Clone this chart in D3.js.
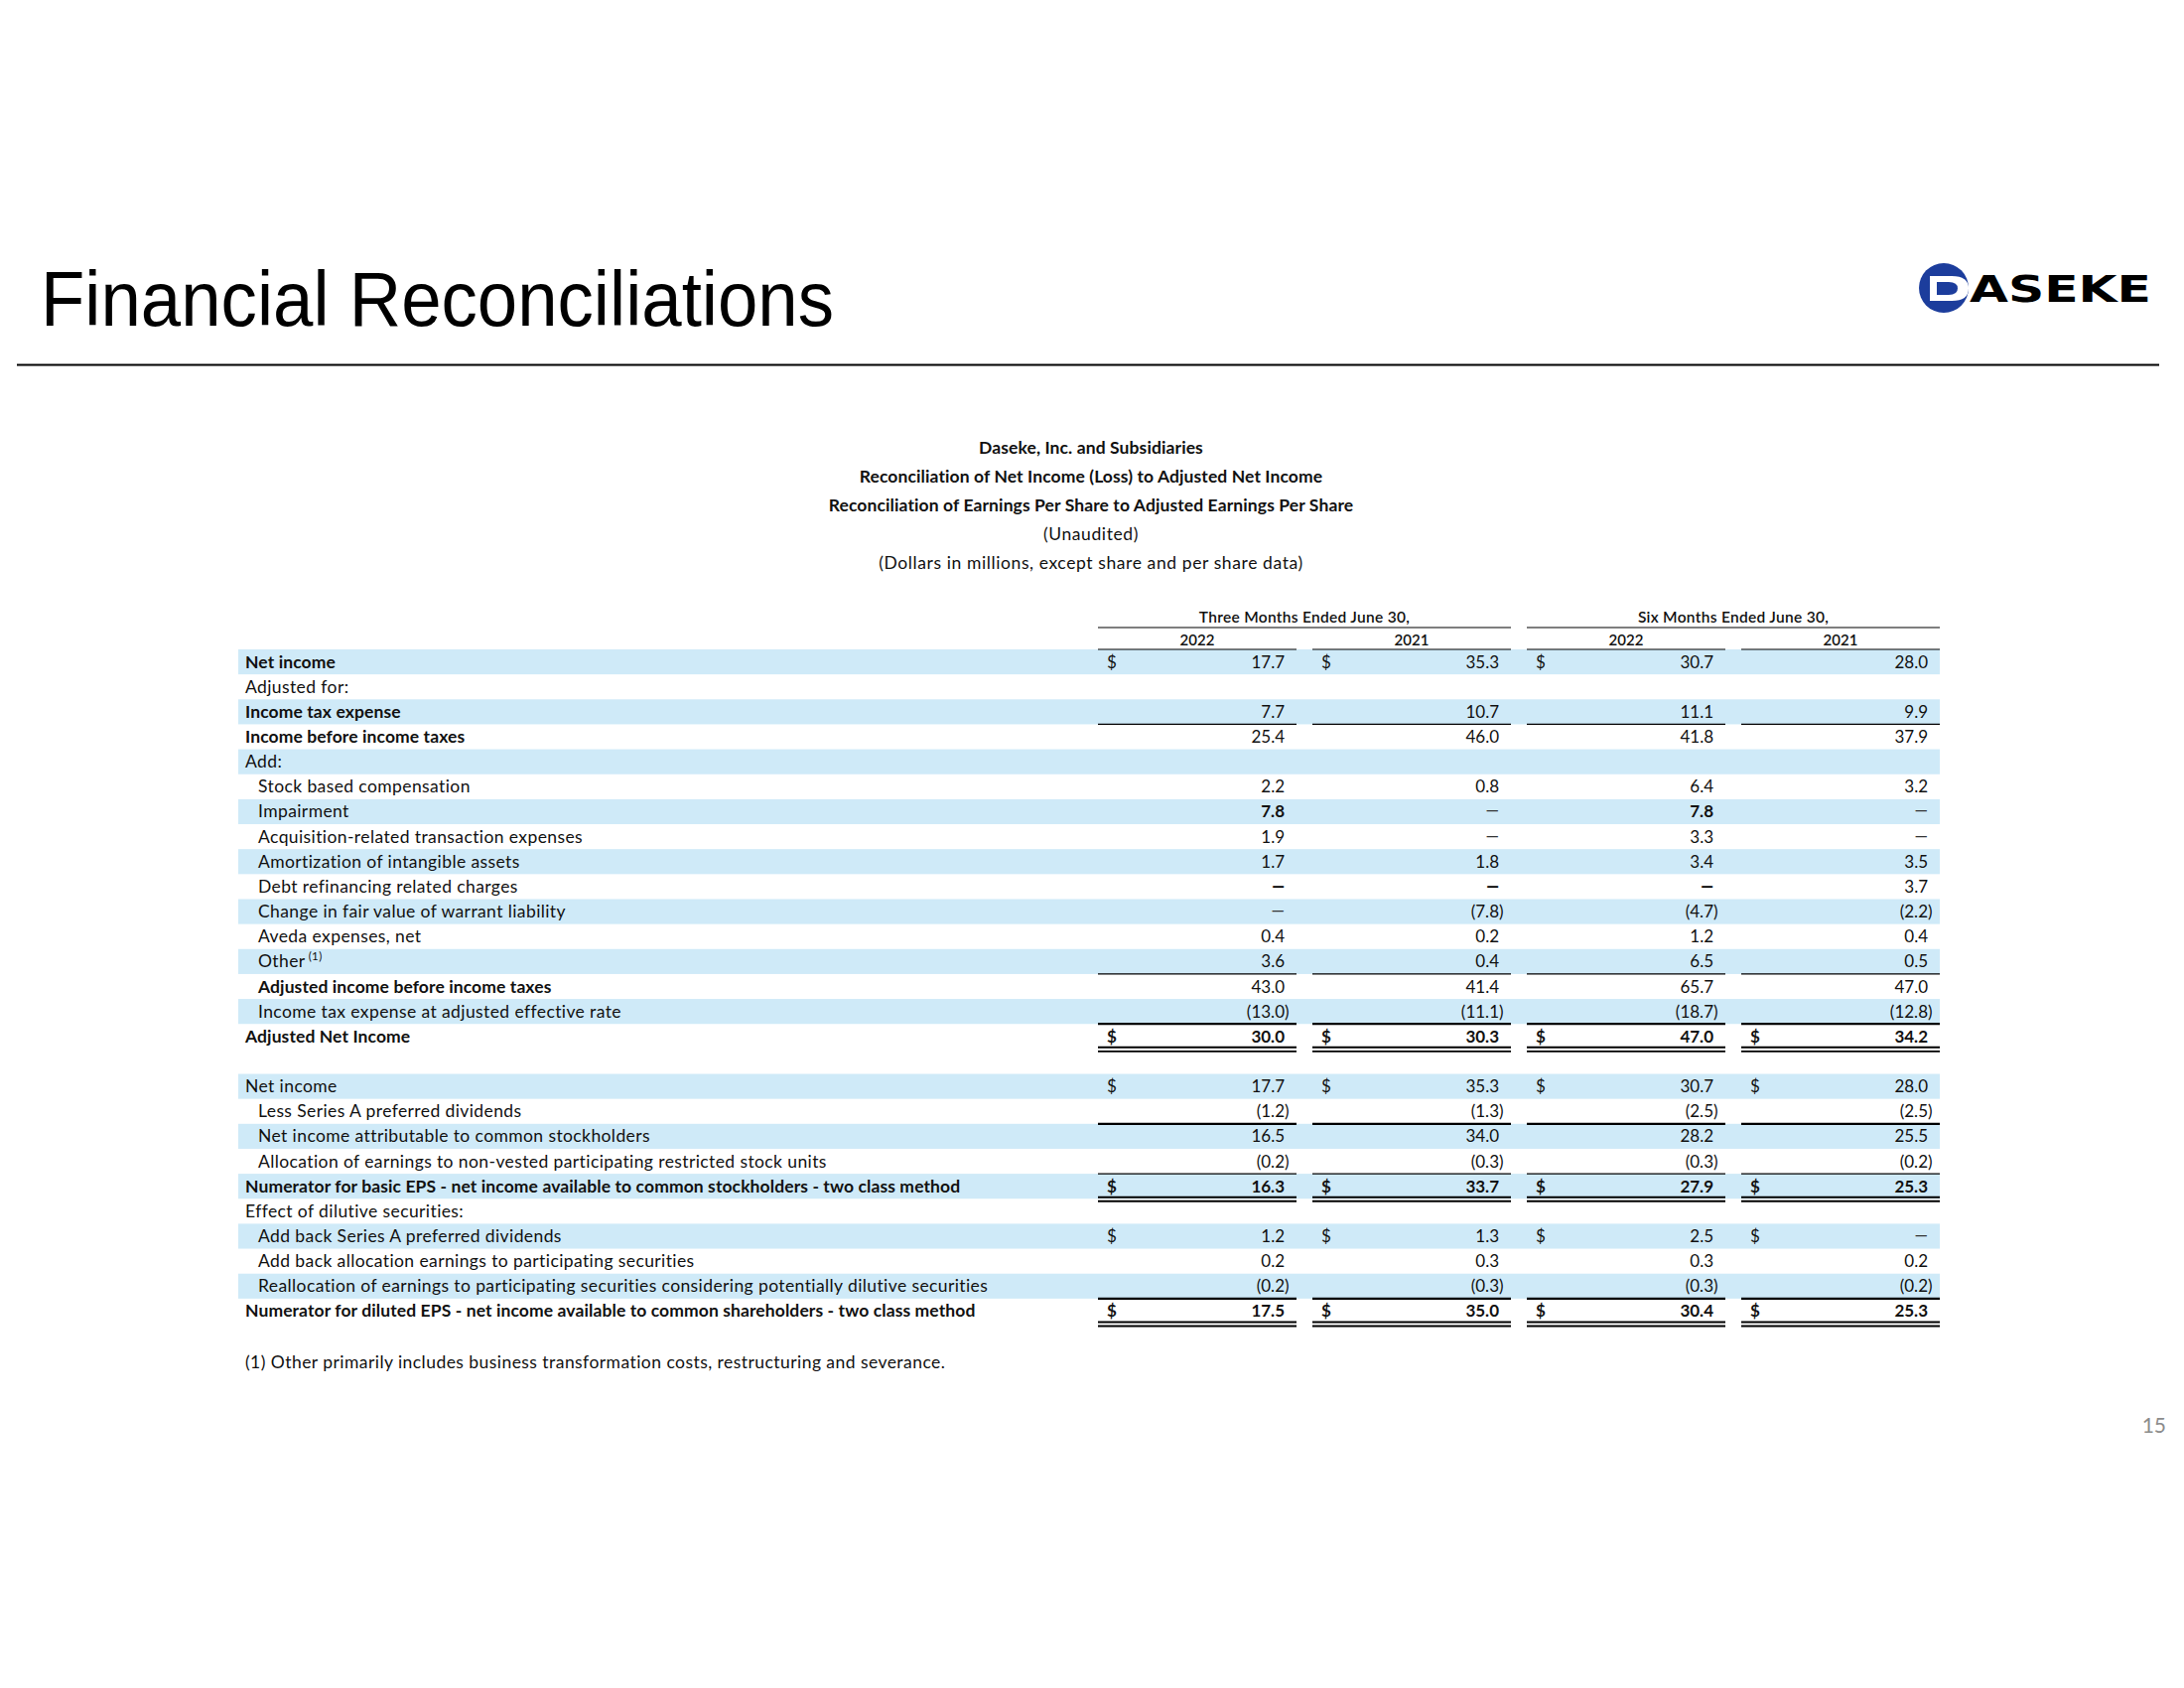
<!DOCTYPE html>
<html><head><meta charset="utf-8">
<script src="https://cdn.jsdelivr.net/npm/d3@7"></script>
<style>body{margin:0;background:#fff}svg{display:block}</style>
</head><body>
<svg id="c" width="2200" height="1700"></svg>
<script>
// ---------------- DATA ----------------
const pageTitle = "Financial Reconciliations";
const logoText = "ASEKE";
const headerLines = [
  "Daseke, Inc. and Subsidiaries",
  "Reconciliation of Net Income (Loss) to Adjusted Net Income",
  "Reconciliation of Earnings Per Share to Adjusted Earnings Per Share",
  "(Unaudited)",
  "(Dollars in millions, except share and per share data)"
];
const headerBold = [true, true, true, false, false];
const periodLabels = ["Three Months Ended June 30,", "Six Months Ended June 30,"];
const yearLabels = ["2022", "2021", "2022", "2021"];
const rowLabels = [
  "Net income", "Adjusted for:", "Income tax expense", "Income before income taxes", "Add:",
  "Stock based compensation", "Impairment", "Acquisition-related transaction expenses",
  "Amortization of intangible assets", "Debt refinancing related charges",
  "Change in fair value of warrant liability", "Aveda expenses, net", "Other",
  "Adjusted income before income taxes", "Income tax expense at adjusted effective rate",
  "Adjusted Net Income", "",
  "Net income", "Less Series A preferred dividends", "Net income attributable to common stockholders",
  "Allocation of earnings to non-vested participating restricted stock units",
  "Numerator for basic EPS - net income available to common stockholders - two class method",
  "Effect of dilutive securities:", "Add back Series A preferred dividends",
  "Add back allocation earnings to participating securities",
  "Reallocation of earnings to participating securities considering potentially dilutive securities",
  "Numerator for diluted EPS - net income available to common shareholders - two class method"
];
// null = empty cell, 0 = dash
const threeMonths2022 = [17.7,null,7.7,25.4,null,2.2,7.8,1.9,1.7,0,0,0.4,3.6,43.0,-13.0,30.0,null,17.7,-1.2,16.5,-0.2,16.3,null,1.2,0.2,-0.2,17.5];
const threeMonths2021 = [35.3,null,10.7,46.0,null,0.8,0,0,1.8,0,-7.8,0.2,0.4,41.4,-11.1,30.3,null,35.3,-1.3,34.0,-0.3,33.7,null,1.3,0.3,-0.3,35.0];
const sixMonths2022   = [30.7,null,11.1,41.8,null,6.4,7.8,3.3,3.4,0,-4.7,1.2,6.5,65.7,-18.7,47.0,null,30.7,-2.5,28.2,-0.3,27.9,null,2.5,0.3,-0.3,30.4];
const sixMonths2021   = [28.0,null,9.9,37.9,null,3.2,0,0,3.5,3.7,-2.2,0.4,0.5,47.0,-12.8,34.2,null,28.0,-2.5,25.5,-0.2,25.3,null,0,0.2,-0.2,25.3];
const dollarCells = {0:[0,1,2], 15:[0,1,2,3], 17:[0,1,2,3], 21:[0,1,2,3], 23:[0,1,2,3], 26:[0,1,2,3]};
const footnoteRef = "(1)";
const footnoteRow = 12;
const footnote = "(1) Other primarily includes business transformation costs, restructuring and severance.";
const pageNumber = "15";

// ------------- ROW ATTRIBUTES -------------
const boldLabelRows = [0,2,3,13,15,21,26];
const boldValueRows = [6,15,21,26];
const boldDashRows = [9];
const indentRows = [5,6,7,8,9,10,11,12,13,14,18,19,20,23,24,25];
const shadedRows = [0,2,4,6,8,10,12,14,17,19,21,23,25];
const singleRuleRows = {2:1.2, 12:1.2, 14:2.2, 18:2.2, 20:1.2, 25:2.2};
const doubleRuleRows = [15,21,26];

// ---------------- DRAW ----------------
const svg = d3.select("#c");
const TF = "Lato, 'Open Sans', 'Noto Sans', sans-serif";
const series = [threeMonths2022, threeMonths2021, sixMonths2022, sixMonths2021];

svg.append("text").attr("x",41).attr("y",328)
  .attr("font-family","'Liberation Sans', Arial, sans-serif").attr("font-size",77)
  .attr("textLength",799).attr("lengthAdjust","spacingAndGlyphs").attr("fill","#000")
  .text(pageTitle);
svg.append("line").attr("x1",17).attr("x2",2175).attr("y1",367.5).attr("y2",367.5)
  .attr("stroke","#000").attr("stroke-width",2);

// logo
const logo = svg.append("g");
const blue = "#1c3d9c";
logo.append("circle").attr("cx",1958).attr("cy",290).attr("r",25).attr("fill",blue);
logo.append("path").attr("d","M1944,278 L1966,278 Q1983,278 1983,290.5 Q1983,303 1966,303 L1944,303 Z").attr("fill","#fff");
logo.append("path").attr("d","M1951,284 L1963,284 Q1972,284 1972,290.5 Q1972,297 1963,297 L1951,297 Z").attr("fill",blue);
logo.append("text").attr("x",1984).attr("y",304).attr("font-family","'DejaVu Sans', sans-serif")
  .attr("font-weight",900).attr("font-size",37).attr("textLength",183).attr("lengthAdjust","spacingAndGlyphs")
  .attr("fill","#000").text(logoText);

// header block
const hy = d3.scalePoint().domain(d3.range(headerLines.length)).range([457, 573]);
svg.append("g").selectAll("text").data(headerLines).join("text")
  .attr("x",1099).attr("y",(d,i)=>hy(i)).attr("text-anchor","middle")
  .attr("font-family",TF).attr("font-size",17.5).attr("font-weight",(d,i)=>headerBold[i]?700:400)
  .attr("letter-spacing",(d,i)=>headerBold[i]?0.1:0.6)
  .attr("fill","#111").text(d=>d);

// scales
const x = d3.scaleBand().domain(d3.range(4)).range([1106,1954]).paddingInner(0.074);
const y = d3.scaleBand().domain(d3.range(rowLabels.length)).range([654,1333]);
const bw = x.bandwidth(), rh = y.bandwidth();

// shading
svg.append("g").selectAll("rect").data(shadedRows).join("rect")
  .attr("x",240).attr("width",1714).attr("y",d=>y(d)).attr("height",rh).attr("fill","#cfeaf8");

// column headers
const periodX = [[x(0), x(1)+bw], [x(2), x(3)+bw]];
const ch = svg.append("g");
periodLabels.forEach((p,i)=>{
  ch.append("text").attr("x",(periodX[i][0]+periodX[i][1])/2).attr("y",627).attr("text-anchor","middle")
    .attr("font-family",TF).attr("font-size",15.5).attr("font-weight",600).attr("letter-spacing",0.3)
    .attr("fill","#111").text(p);
  ch.append("line").attr("x1",periodX[i][0]).attr("x2",periodX[i][1]).attr("y1",632).attr("y2",632)
    .attr("stroke","#000").attr("stroke-width",1.2);
});
yearLabels.forEach((yl,i)=>{
  ch.append("text").attr("x",x(i)+bw/2).attr("y",650).attr("text-anchor","middle")
    .attr("font-family",TF).attr("font-size",15).attr("font-weight",600).attr("fill","#111").text(yl);
  ch.append("line").attr("x1",x(i)).attr("x2",x(i)+bw).attr("y1",654).attr("y2",654)
    .attr("stroke","#000").attr("stroke-width",1.2);
});

// row labels
const base = i => y(i) + rh/2 + 6;
const lab = svg.append("g").selectAll("text").data(rowLabels).join("text")
  .attr("x",(d,i)=>indentRows.includes(i)?260:247).attr("y",(d,i)=>base(i))
  .attr("font-family",TF).attr("font-size",17.5)
  .attr("font-weight",(d,i)=>boldLabelRows.includes(i)?700:400)
  .attr("letter-spacing",(d,i)=>boldLabelRows.includes(i)?0.1:0.4)
  .attr("fill","#111")
  .text(d=>d);
lab.filter((d,i)=>i===footnoteRow).append("tspan").attr("font-size",11.5).attr("dy",-7).attr("dx",3).text(footnoteRef);

// values
const fmt = d3.format(".1f");
const cells = [];
series.forEach((s,c)=>s.forEach((v,r)=>{ if(v!==null) cells.push({r,c,v}); }));
const vg = svg.append("g").attr("font-family",TF).attr("font-size",17).attr("fill","#111");
cells.forEach(d=>{
  const xr = x(d.c)+bw-12;
  const w = boldValueRows.includes(d.r)?700:400;
  if(d.v===0){
    const bd = boldDashRows.includes(d.r);
    vg.append("text").attr("x",xr).attr("y",base(d.r)-1).attr("text-anchor","end")
      .attr("font-weight",bd?900:400).attr("font-size",bd?16:17).attr("fill",bd?"#000":"#333").text("—");
  } else if(d.v<0){
    vg.append("text").attr("x",xr).attr("y",base(d.r)).attr("text-anchor","end").attr("font-weight",w).text("("+fmt(-d.v));
    vg.append("text").attr("x",xr).attr("y",base(d.r)).attr("font-weight",w).text(")");
  } else {
    vg.append("text").attr("x",xr).attr("y",base(d.r)).attr("text-anchor","end").attr("font-weight",w).text(fmt(d.v));
  }
});
Object.entries(dollarCells).forEach(([r,cols])=>{
  r=+r;
  cols.forEach(c=>{
    vg.append("text").attr("x",x(c)+9).attr("y",base(r))
      .attr("font-weight",boldValueRows.includes(r)?700:400).text("$");
  });
});

// rules
const rg = svg.append("g").attr("stroke","#000");
Object.entries(singleRuleRows).forEach(([r,sw])=>{
  r=+r;
  d3.range(4).forEach(c=>rg.append("line").attr("x1",x(c)).attr("x2",x(c)+bw)
    .attr("y1",y(r)+rh).attr("y2",y(r)+rh).attr("stroke-width",sw));
});
doubleRuleRows.forEach(r=>{
  d3.range(4).forEach(c=>{
    rg.append("line").attr("x1",x(c)).attr("x2",x(c)+bw).attr("y1",y(r)+rh-1.5).attr("y2",y(r)+rh-1.5).attr("stroke-width",2);
    rg.append("line").attr("x1",x(c)).attr("x2",x(c)+bw).attr("y1",y(r)+rh+2.5).attr("y2",y(r)+rh+2.5).attr("stroke-width",1.8);
  });
});

// footnote & page number
svg.append("text").attr("x",247).attr("y",1378).attr("font-family",TF).attr("font-size",17.5)
  .attr("letter-spacing",0.45).attr("fill","#111").text(footnote);
svg.append("text").attr("x",2182).attr("y",1443).attr("text-anchor","end").attr("font-family",TF)
  .attr("font-size",21).attr("fill","#8c8c8c").text(pageNumber);
</script>
</body></html>
